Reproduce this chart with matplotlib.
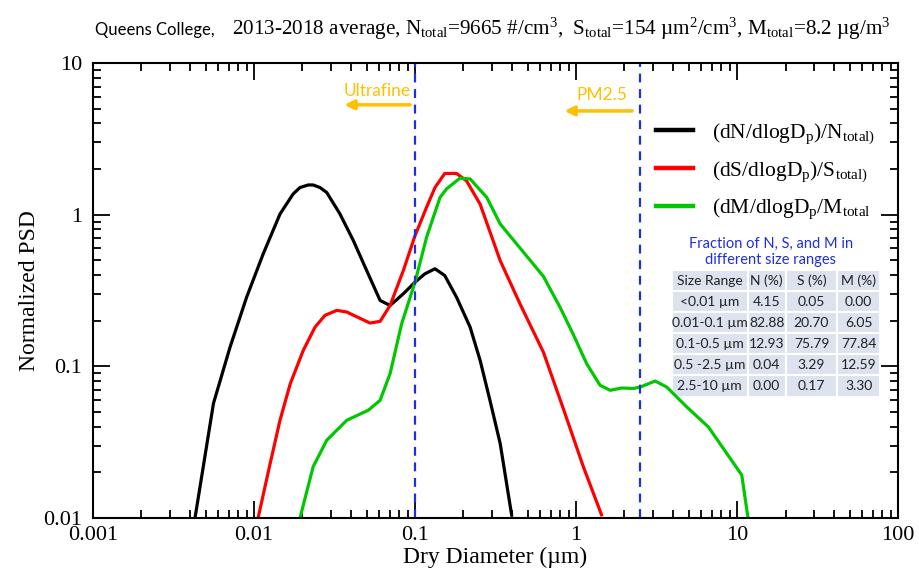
import numpy as np
import matplotlib
matplotlib.use("Agg")
import matplotlib.pyplot as plt
from matplotlib.ticker import LogLocator, NullFormatter, FixedFormatter, FixedLocator

plt.rcParams['font.family'] = ['Liberation Serif', 'DejaVu Serif']
plt.rcParams['mathtext.fontset'] = 'custom'
plt.rcParams['mathtext.rm'] = 'Liberation Serif'
plt.rcParams['mathtext.it'] = 'Liberation Serif:italic'

# normalized size distributions
dp_n = [0.0043, 0.0056, 0.0071, 0.0090, 0.0114, 0.0145, 0.0175, 0.0193, 0.0217, 0.0233,
        0.0257, 0.0283, 0.0342, 0.0414, 0.0501, 0.0607, 0.0700, 0.0846, 0.100, 0.115,
        0.133, 0.153, 0.181, 0.220, 0.254, 0.292, 0.338, 0.398]
n_norm = [0.010, 0.057, 0.134, 0.286, 0.551, 1.01, 1.37, 1.51, 1.57, 1.57,
          1.51, 1.40, 1.01, 0.675, 0.428, 0.272, 0.252, 0.301, 0.359, 0.407,
          0.44, 0.397, 0.286, 0.181, 0.109, 0.0597, 0.031, 0.0105]

dp_s = [0.0106, 0.0126, 0.0145, 0.0168, 0.0202, 0.0239, 0.0276, 0.0327, 0.0377, 0.0525,
        0.0607, 0.0700, 0.0846, 0.100, 0.118, 0.133, 0.153, 0.181, 0.209, 0.254,
        0.338, 0.449, 0.627, 0.84, 1.11, 1.44]
s_norm = [0.010, 0.0229, 0.0441, 0.0769, 0.127, 0.181, 0.217, 0.234, 0.228, 0.193,
          0.198, 0.252, 0.428, 0.727, 1.12, 1.51, 1.87, 1.87, 1.67, 1.17,
          0.498, 0.258, 0.124, 0.0514, 0.0218, 0.0105]

dp_m = [0.0193, 0.0233, 0.0283, 0.0377, 0.0513, 0.0607, 0.0700, 0.0826, 0.100, 0.118,
        0.143, 0.157, 0.190, 0.220, 0.279, 0.338, 0.428, 0.627, 0.796, 0.957,
        1.165, 1.41, 1.63, 1.92, 2.27, 2.50, 3.10, 3.66, 4.87, 6.63, 10.7, 11.7]
m_norm = [0.010, 0.0218, 0.0326, 0.0441, 0.0514, 0.0597, 0.0895, 0.191, 0.359, 0.71,
          1.30, 1.48, 1.74, 1.72, 1.30, 0.869, 0.641, 0.392, 0.245, 0.164,
          0.104, 0.075, 0.0695, 0.072, 0.0715, 0.073, 0.080, 0.073, 0.054, 0.0399, 0.0192, 0.010]

cutoffs = [0.1, 2.5]  # ultrafine / PM2.5

size_ranges = ['<0.01 µm', '0.01-0.1 µm', '0.1-0.5 µm', '0.5 -2.5 µm', '2.5-10 µm']
n_frac = ['4.15', '82.88', '12.93', '0.04', '0.00']
s_frac = ['0.05', '20.70', '75.79', '3.29', '0.17']
m_frac = ['0.00', '6.05', '77.84', '12.59', '3.30']
col_labels = ['Size Range', 'N (%)', 'S (%)', 'M (%)']

orange = '#FFC000'
blue = '#1F2FE0'

fig = plt.figure(figsize=(9.19, 5.75), dpi=100)
ax = fig.add_axes([0.1012, 0.0991, 0.8760, 0.7913])

ax.plot(dp_n, n_norm, color='black', lw=2.3,
        label=r'(dN/dlogD$_\mathrm{p}$)/N$_\mathrm{total)}$')
ax.plot(dp_s, s_norm, color='#FF0000', lw=2.3,
        label=r'(dS/dlogD$_\mathrm{p}$)/S$_\mathrm{total)}$')
ax.plot(dp_m, m_norm, color='#00C800', lw=2.3,
        label=r'(dM/dlogD$_\mathrm{p}$/M$_\mathrm{total}$')

for c in cutoffs:
    ax.axvline(c, color=blue, lw=1.6, ls=(0, (4, 3)))

ax.set_xscale('log')
ax.set_yscale('log')
ax.set_xlim(0.001, 100)
ax.set_ylim(0.01, 10)

ax.xaxis.set_major_locator(FixedLocator([0.001, 0.01, 0.1, 1, 10, 100]))
ax.xaxis.set_major_formatter(FixedFormatter(['0.001', '0.01', '0.1', '1', '10', '100']))
ax.yaxis.set_major_locator(FixedLocator([0.01, 0.1, 1, 10]))
ax.yaxis.set_major_formatter(FixedFormatter(['0.01', '0.1', '1', '10']))
ax.xaxis.set_minor_locator(LogLocator(base=10, subs=np.arange(2, 10), numticks=20))
ax.yaxis.set_minor_locator(LogLocator(base=10, subs=np.arange(2, 10), numticks=20))
ax.xaxis.set_minor_formatter(NullFormatter())
ax.yaxis.set_minor_formatter(NullFormatter())
ax.tick_params(which='both', direction='in', top=True, right=True, width=1.3, labelsize=16)
ax.tick_params(which='major', length=12, pad=6)
ax.tick_params(which='minor', length=6)
ax.tick_params(axis='y', which='major', pad=8)
for s in ax.spines.values():
    s.set_linewidth(1.5)

ax.set_xlabel('Dry Diameter (µm)', fontsize=17, labelpad=1)
ax.set_ylabel('Normalized PSD', fontsize=17, labelpad=2)

# ultrafine / PM2.5 arrows
ax.annotate('', xy=(0.035, 5.3), xytext=(0.097, 5.3),
            arrowprops=dict(arrowstyle='-|>', color=orange, lw=2.5, mutation_scale=14))
ax.text(0.058, 6.5, 'Ultrafine', color=orange, fontsize=12.5, family='Lato',
        ha='center', va='center')
ax.annotate('', xy=(0.815, 4.83), xytext=(2.32, 4.83),
            arrowprops=dict(arrowstyle='-|>', color=orange, lw=2.5, mutation_scale=14))
ax.text(1.45, 6.15, 'PM2.5', color=orange, fontsize=12.5, family='Lato',
        ha='center', va='center')

leg = ax.legend(loc='upper left', bbox_to_anchor=(0.675, 0.915), frameon=False,
                fontsize=15.5, handlelength=1.75, handletextpad=0.85, labelspacing=0.6)
for h in leg.legend_handles:
    h.set_linewidth(3.2)

# fraction table
ax.text(0.842, 0.585, 'Fraction of N, S, and M in\ndifferent size ranges', transform=ax.transAxes,
        color=blue, fontsize=10.5, family='Lato', ha='center', va='center', linespacing=1.15)
cells = [[r, n, s, m] for r, n, s, m in zip(size_ranges, n_frac, s_frac, m_frac)]
tab = ax.table(cellText=cells, colLabels=col_labels, cellLoc='center',
               colWidths=[75.6, 38.4, 51.0, 43.3],
               bbox=[0.719, 0.267, 0.259, 0.278])
tab.auto_set_font_size(False)
for (r, c), cell in tab.get_celld().items():
    cell.set_facecolor('#DDE3EE')
    cell.set_edgecolor('white')
    cell.set_linewidth(1.5)
    cell.PAD = 0.02
    cell.get_text().set_fontsize(10)
    cell.get_text().set_fontfamily('Lato')
    cell.get_text().set_color('#202020')

# title: mixed fonts
fig.text(0.1034, 0.939, 'Queens College,', fontsize=12, family='Lato', va='baseline')
fig.text(0.2524, 0.939,
         r'2013-2018 average, N$_\mathrm{total}$=9665 #/cm$^\mathrm{3}$,  '
         r'S$_\mathrm{total}$=154 µm$^\mathrm{2}$/cm$^\mathrm{3}$, '
         r'M$_\mathrm{total}$=8.2 µg/m$^\mathrm{3}$',
         fontsize=15.2, va='baseline')

fig.savefig('out.png', dpi=100)
